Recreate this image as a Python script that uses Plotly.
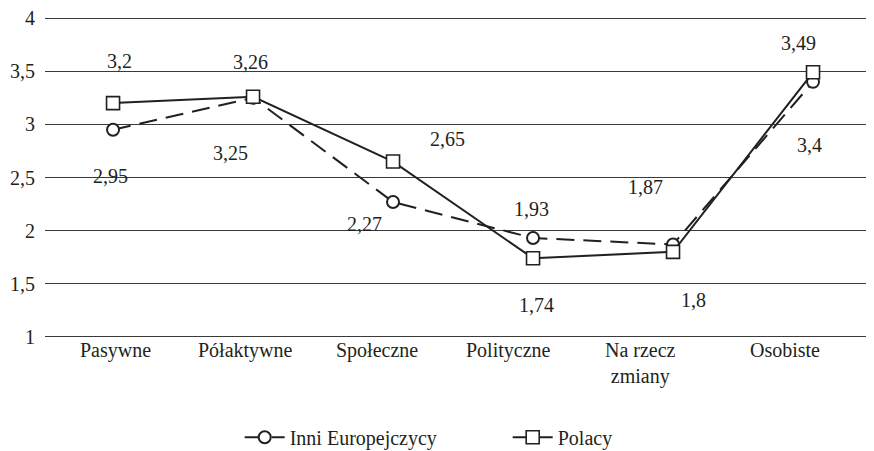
import plotly.graph_objects as go

categories = ["Pasywne", "Półaktywne", "Społeczne", "Polityczne", "Na rzecz<br>zmiany", "Osobiste"]
inni = [2.95, 3.25, 2.27, 1.93, 1.87, 3.4]
polacy = [3.2, 3.26, 2.65, 1.74, 1.8, 3.49]
y_ticks = [1, 1.5, 2, 2.5, 3, 3.5, 4]

INK = "#231f20"
FONT = "Times New Roman"

# label offsets in pixels (style only)
inni_off = [(-3, 46), (-23, 55), (-29, 22), (-2, -29), (-28, -57), (-4, 63)]
pol_off = [(6, -42), (-3, -35), (54, -23), (3, 47), (20, 48), (-15, -29)]
cat_shift = [2, -8, -16, -25, -33, -28]

x = list(range(len(categories)))

fig = go.Figure()
fig.add_trace(go.Scatter(
    x=x, y=inni, name="Inni Europejczycy", mode="lines+markers",
    line=dict(color=INK, width=2, dash="18px,9px"),
    marker=dict(symbol="circle", size=12, color="white", line=dict(color=INK, width=2)),
))
fig.add_trace(go.Scatter(
    x=x, y=polacy, name="Polacy", mode="lines+markers",
    line=dict(color=INK, width=2),
    marker=dict(symbol="square", size=13, color="white", line=dict(color=INK, width=1.6)),
))

def fmt(v):
    return f"{v:g}".replace(".", ",")

tfont = dict(family=FONT, size=20, color=INK)

# data labels
for vals, offs in ((inni, inni_off), (polacy, pol_off)):
    for i, (v, (dx, dy)) in enumerate(zip(vals, offs)):
        fig.add_annotation(x=i, y=v, text=fmt(v), showarrow=False,
                           xshift=dx, yshift=-dy, font=tfont)

# category labels (drawn as text on the x scale)
for i, (c, s) in enumerate(zip(categories, cat_shift)):
    fig.add_annotation(x=i, xref="x", y=0, yref="paper", yanchor="top",
                       text=c, showarrow=False, xshift=s, yshift=2,
                       align="center", font=tfont)

# y tick labels (drawn as text on the y scale)
for t in y_ticks:
    fig.add_annotation(x=0, xref="paper", xanchor="right", y=t, yref="y",
                       text=fmt(t), showarrow=False, xshift=-8, font=tfont)

fig.update_layout(
    width=866, height=443,
    margin=dict(l=37, r=4, t=8, b=112, autoexpand=False),
    paper_bgcolor="white", plot_bgcolor="white",
    font=dict(family=FONT, size=20, color=INK),
    separators=", ",
    showlegend=True,
    legend=dict(orientation="h", x=0.236, xanchor="left",
                y=-0.304, yanchor="middle",
                font=dict(family=FONT, size=20, color=INK),
                entrywidth=213, itemwidth=40),
)
fig.update_xaxes(
    range=[-0.486, 5.407], tickvals=x, showticklabels=False,
    showgrid=False, zeroline=False, showline=False, ticks="",
)
fig.update_yaxes(
    range=[0.98, 4.02], tickvals=y_ticks, showticklabels=False,
    showgrid=True, gridcolor="#3a3a3a", gridwidth=1.3, zeroline=False, showline=False,
    ticks="",
)

fig.write_html("out.html")
